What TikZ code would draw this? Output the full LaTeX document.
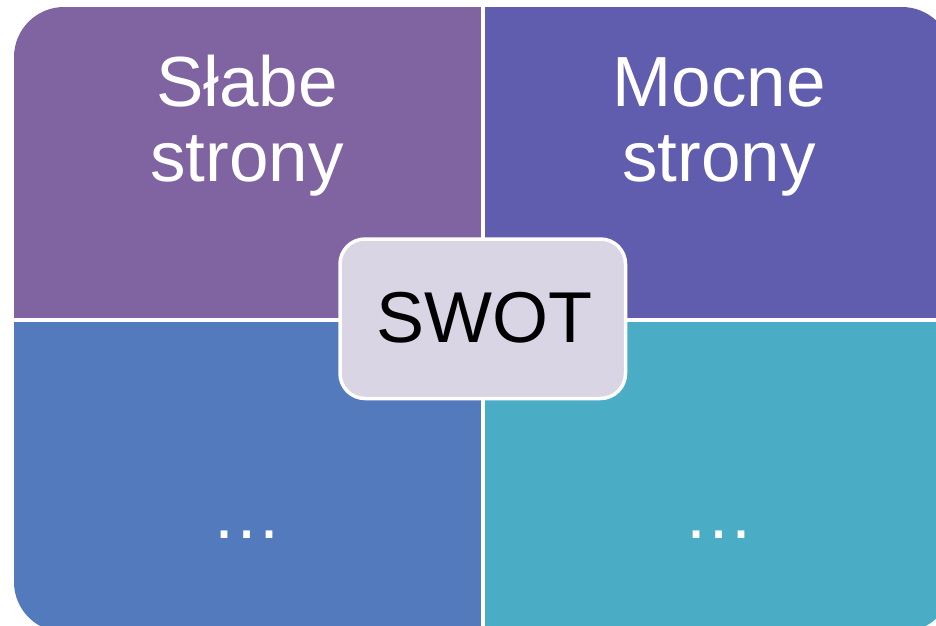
\documentclass[tikz,border=0pt]{standalone}
\usepackage{fontspec}
\setmainfont{Liberation Sans}
\definecolor{qpurple}{HTML}{8064A2}
\definecolor{qindigo}{HTML}{615DAE}
\definecolor{qblue}{HTML}{527ABD}
\definecolor{qaqua}{HTML}{4BACC6}
\definecolor{swotfill}{HTML}{D9D5E5}
\tikzset{
  quadtext/.style={text=white, anchor=base, inner sep=0pt, font=\fontsize{71}{74}\selectfont},
  swotbox/.style={draw=white, line width=3.5pt, fill=swotfill, rounded corners=25pt},
}
\begin{document}
\begin{tikzpicture}[x=1pt,y=-1pt]
\useasboundingbox (0,0) rectangle (936,625);
\begin{scope}
\clip (0,0) rectangle (936,625);
\begin{scope}
\clip[rounded corners=50pt] (14,7) rectangle (952,632);
\fill[qpurple] (14,7) rectangle (481,318);
\fill[qindigo] (485,7) rectangle (952,318);
\fill[qblue] (14,322) rectangle (481,632);
\fill[qaqua] (485,322) rectangle (952,632);
\end{scope}
\end{scope}
\node[quadtext] (w1) at (247,106) {Słabe};
\node[quadtext] (w2) at (247,181) {strony};
\node[quadtext] (s1) at (719,106) {Mocne};
\node[quadtext] (s2) at (719,181) {strony};
\node[quadtext] (o1) at (247,538) {…};
\node[quadtext] (t1) at (719,538) {…};
\draw[swotbox] (340,239) rectangle (625.5,398.5);
\node[anchor=base, inner sep=0pt, font=\fontsize{72}{74}\selectfont, text=black] (swot) at (484,342) {SWOT};
\end{tikzpicture}
\end{document}
